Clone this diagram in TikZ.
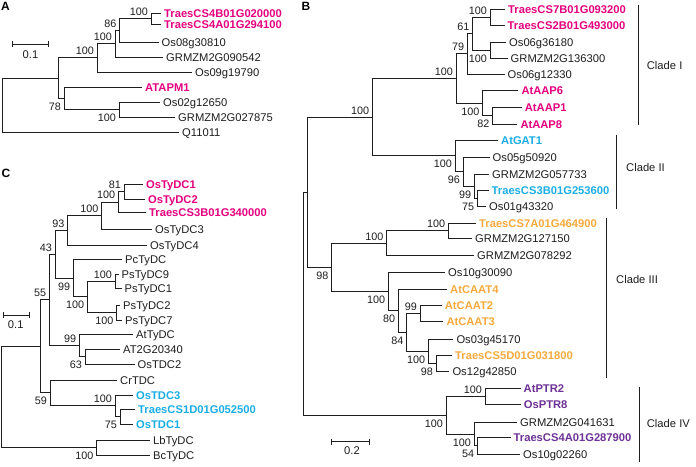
\documentclass[tikz,border=0pt]{standalone}
\usepackage{fontspec}
\setmainfont{Liberation Sans}
\definecolor{pinkc}{RGB}{228,0,127}
\definecolor{cyanc}{RGB}{27,174,228}
\definecolor{orangec}{RGB}{246,170,62}
\definecolor{purplec}{RGB}{110,50,150}
\definecolor{linec}{RGB}{30,30,30}
\newcommand\SupUp[3]{\node[sup] (#1) at ([shift={(-3,-3)}]#2) {#3};}
\newcommand\SupDn[3]{\node[sup] (#1) at ([shift={(-3,12)}]#2) {#3};}
\begin{document}
\begin{tikzpicture}[x=1pt,y=-1pt,
  br/.style={line width=0.9pt, draw=linec},
  bar/.style={line width=1.3pt, draw=linec},
  lf/.style={anchor=west, inner xsep=3pt, inner ysep=0pt, text height=8pt, text depth=0pt, text=linec, font=\fontsize{11.2}{13}\selectfont},
  pk/.style={lf, text=pinkc, font=\fontsize{11.2}{13}\selectfont\bfseries},
  cy/.style={lf, text=cyanc, font=\fontsize{11.2}{13}\selectfont\bfseries},
  og/.style={lf, text=orangec, font=\fontsize{11.2}{13}\selectfont\bfseries},
  pu/.style={lf, text=purplec, font=\fontsize{11.2}{13}\selectfont\bfseries},
  sup/.style={anchor=base east, inner sep=0pt, text=linec, font=\fontsize{10.8}{12}\selectfont},
  plabel/.style={inner sep=0pt, font=\fontsize{12}{14}\selectfont\bfseries},
  clade/.style={anchor=west, inner sep=0pt, text=linec, font=\fontsize{11.2}{13}\selectfont},
  sc/.style={inner sep=0pt, text=linec, font=\fontsize{11.2}{13}\selectfont}
]
\useasboundingbox[fill=white] (0,0) rectangle (696,466);

% ================= Panel A =================
\node[plabel] (pA) at (5.5,6.5) {A};
\node[pk] (A1) at (161,13) {TraesCS4B01G020000};
\node[pk] (A2) at (161,24.3) {TraesCS4A01G294100};
\node[lf] (A3) at (158.5,42) {Os08g30810};
\node[lf] (A4) at (163,57) {GRMZM2G090542};
\node[lf] (A5) at (192,72) {Os09g19790};
\node[pk] (A6) at (142,87) {ATAPM1};
\node[lf] (A7) at (160,102) {Os02g12650};
\node[lf] (A8) at (175,117) {GRMZM2G027875};
\node[lf] (A9) at (179,132) {Q11011};
\coordinate (a6) at (151,18.65);
\coordinate (a5) at (119.5,30.3);
\coordinate (a4) at (115,43.65);
\coordinate (a2) at (97,57.8);
\coordinate (a7) at (119,109.5);
\coordinate (a3) at (64,98.25);
\coordinate (a1) at (58,78);
\coordinate (a0) at (2,105);
\draw[br] (a6) |- (A1.west) (a6) |- (A2.west);
\draw[br] (a5) |- (a6) (a5) |- (A3.west);
\draw[br] (a4) |- (a5) (a4) |- (A4.west);
\draw[br] (a2) |- (a4) (a2) |- (A5.west);
\draw[br] (a7) |- (A7.west) (a7) |- (A8.west);
\draw[br] (a3) |- (A6.west) (a3) |- (a7);
\draw[br] (a1) |- (a2) (a1) |- (a3);
\draw[br] (a0) |- (a1) (a0) |- (A9.west);
\SupUp{sa6}{a6}{100}
\SupUp{sa5}{a5}{86}
\SupUp{sa4}{a4}{100}
\SupUp{sa2}{a2}{100}
\SupDn{sa7}{a7}{100}
\SupDn{sa3}{a3}{78}
% scale A
\coordinate (scA1) at (12,44);
\coordinate (scA2) at (48,44);
\draw[br] (scA1) -- (scA2);
\draw[br] ([yshift=3pt]scA1) -- ([yshift=-3pt]scA1);
\draw[br] ([yshift=3pt]scA2) -- ([yshift=-3pt]scA2);
\node[sc] (scAt) at (30.5,55) {0.1};

% ================= Panel C =================
\node[plabel] (pC) at (6,173.3) {C};
\node[pk] (C1) at (143,184) {OsTyDC1};
\node[pk] (C2) at (145,199.3) {OsTyDC2};
\node[pk] (C3) at (146,212.3) {TraesCS3B01G340000};
\node[lf] (C4) at (152,229.3) {OsTyDC3};
\node[lf] (C5) at (147,245) {OsTyDC4};
\node[lf] (C6) at (122,259.3) {PcTyDC};
\node[lf] (C7) at (118.5,274.3) {PsTyDC9};
\node[lf] (C8) at (121.5,288.3) {PsTyDC1};
\node[lf] (C9) at (120,305) {PsTyDC2};
\node[lf] (C10) at (122,320) {PsTyDC7};
\node[lf] (C11) at (133,334.3) {AtTyDC};
\node[lf] (C12) at (120,349.3) {AT2G20340};
\node[lf] (C13) at (134.5,364.3) {OsTDC2};
\node[lf] (C14) at (117,380) {CrTDC};
\node[cy] (C15) at (133,395) {OsTDC3};
\node[cy] (C16) at (135,409) {TraesCS1D01G052500};
\node[cy] (C17) at (133,424.3) {OsTDC1};
\node[lf] (C18) at (150,440) {LbTyDC};
\node[lf] (C19) at (150,455) {BcTyDC};
\coordinate (ca) at (124,191.65);
\coordinate (cb) at (118.3,201.98);
\coordinate (cc) at (101.7,215.64);
\coordinate (cd) at (67.7,230.32);
\coordinate (cp1) at (115,281.3);
\coordinate (cp2) at (116.7,312.5);
\coordinate (ci) at (87.3,296.9);
\coordinate (cg) at (73.3,278.1);
\coordinate (c43) at (55,254.2);
\coordinate (cat2) at (85,356.8);
\coordinate (cat) at (79.3,345.55);
\coordinate (c55) at (49.3,299.9);
\coordinate (cos2) at (120,416.65);
\coordinate (cos) at (115,405.8);
\coordinate (c59) at (50,392.9);
\coordinate (c40) at (40.7,346.4);
\coordinate (clb) at (96.7,447.5);
\coordinate (c0) at (1.7,396.95);
\draw[br] (ca) |- (C1.west) (ca) |- (C2.west);
\draw[br] (cb) |- (ca) (cb) |- (C3.west);
\draw[br] (cc) |- (cb) (cc) |- (C4.west);
\draw[br] (cd) |- (cc) (cd) |- (C5.west);
\draw[br] (cp1) |- (C7.west) (cp1) |- (C8.west);
\draw[br] (cp2) |- (C9.west) (cp2) |- (C10.west);
\draw[br] (ci) |- (cp1) (ci) |- (cp2);
\draw[br] (cg) |- (C6.west) (cg) |- (ci);
\draw[br] (c43) |- (cd) (c43) |- (cg);
\draw[br] (cat2) |- (C12.west) (cat2) |- (C13.west);
\draw[br] (cat) |- (C11.west) (cat) |- (cat2);
\draw[br] (c55) |- (c43) (c55) |- (cat);
\draw[br] (cos2) |- (C16.west) (cos2) |- (C17.west);
\draw[br] (cos) |- (C15.west) (cos) |- (cos2);
\draw[br] (c59) |- (C14.west) (c59) |- (cos);
\draw[br] (c40) |- (c55) (c40) |- (c59);
\draw[br] (clb) |- (C18.west) (clb) |- (C19.west);
\draw[br] (c0) |- (c40) (c0) |- (clb);
\SupUp{sca}{ca}{81}
\SupUp{scb}{cb}{100}
\SupUp{scc}{cc}{100}
\SupUp{scd}{cd}{93}
\SupUp{sc43}{c43}{43}
\SupUp{scp1}{cp1}{100}
\SupDn{scp2}{cp2}{100}
\SupDn{sci}{ci}{100}
\SupDn{scg}{cg}{99}
\SupUp{scat}{cat}{99}
\SupDn{scat2}{cat2}{63}
\SupUp{sc55}{c55}{55}
\SupUp{scos}{cos}{100}
\SupDn{scos2}{cos2}{75}
\SupDn{sc59}{c59}{59}
\SupDn{sclb}{clb}{100}
% scale C
\coordinate (scC1) at (3.3,315);
\coordinate (scC2) at (29.3,315);
\draw[br] (scC1) -- (scC2);
\draw[br] ([yshift=3pt]scC1) -- ([yshift=-3pt]scC1);
\draw[br] ([yshift=3pt]scC2) -- ([yshift=-3pt]scC2);
\node[sc] (scCt) at (15.7,325) {0.1};

% ================= Panel B =================
\node[plabel] (pB) at (306,6.7) {B};
\node[pk] (B1) at (505,9.3) {TraesCS7B01G093200};
\node[pk] (B2) at (504.5,25) {TraesCS2B01G493000};
\node[lf] (B3) at (506,42.7) {Os06g36180};
\node[lf] (B4) at (507.5,58.3) {GRMZM2G136300};
\node[lf] (B5) at (504.5,74) {Os06g12330};
\node[pk] (B6) at (518.3,90.7) {AtAAP6};
\node[pk] (B7) at (521.7,107.7) {AtAAP1};
\node[pk] (B8) at (517.3,124) {AtAAP8};
\node[cy] (B9) at (498,140) {AtGAT1};
\node[lf] (B10) at (489.5,157.3) {Os05g50920};
\node[lf] (B11) at (489,174) {GRMZM2G057733};
\node[cy] (B12) at (488.5,190) {TraesCS3B01G253600};
\node[lf] (B13) at (486,206) {Os01g43320};
\node[og] (B14) at (476,223) {TraesCS7A01G464900};
\node[lf] (B15) at (472,238.8) {GRMZM2G127150};
\node[lf] (B16) at (474,255.5) {GRMZM2G078292};
\node[lf] (B17) at (445,272.5) {Os10g30090};
\node[og] (B18) at (447,289) {AtCAAT4};
\node[og] (B19) at (441.7,305.5) {AtCAAT2};
\node[og] (B20) at (443.3,321.7) {AtCAAT3};
\node[lf] (B21) at (453.3,339) {Os03g45170};
\node[og] (B22) at (452,355.7) {TraesCS5D01G031800};
\node[lf] (B23) at (449.3,371.7) {Os12g42850};
\node[pu] (B24) at (520.5,388.3) {AtPTR2};
\node[pu] (B25) at (520.7,404.3) {OsPTR8};
\node[lf] (B26) at (517,422.3) {GRMZM2G041631};
\node[pu] (B27) at (510.5,437.7) {TraesCS4A01G287900};
\node[lf] (B28) at (520,454) {Os10g02260};
\coordinate (b100a) at (490,17.15);
\coordinate (b100b) at (490,50.5);
\coordinate (b61) at (472.7,33.8);
\coordinate (b79) at (467.3,53.9);
\coordinate (b82) at (492.7,115.85);
\coordinate (baap) at (482.7,103.3);
\coordinate (bc1) at (456,78.6);
\coordinate (b75) at (477.3,198);
\coordinate (b99) at (474.3,186);
\coordinate (b96) at (463,171.65);
\coordinate (bc2) at (455,155.8);
\coordinate (x1) at (372.3,117.2);
\coordinate (b100c) at (448.3,230.9);
\coordinate (b100d) at (386.7,243.2);
\coordinate (b98b) at (436,363.7);
\coordinate (b100e) at (428.3,351.35);
\coordinate (b99b) at (420,313.6);
\coordinate (b84) at (406.7,332.5);
\coordinate (b80) at (398.3,310.75);
\coordinate (b100f) at (388.3,291.6);
\coordinate (b98) at (331.7,267.4);
\coordinate (x0) at (307.3,192.3);
\coordinate (b100g) at (485,396.3);
\coordinate (b54) at (477.3,445.85);
\coordinate (b100h) at (474,434.1);
\coordinate (bc4) at (446,415.2);
\coordinate (b0) at (303.3,303.75);
\draw[br] (b100a) |- (B1.west) (b100a) |- (B2.west);
\draw[br] (b100b) |- (B3.west) (b100b) |- (B4.west);
\draw[br] (b61) |- (b100a) (b61) |- (b100b);
\draw[br] (b79) |- (b61) (b79) |- (B5.west);
\draw[br] (b82) |- (B7.west) (b82) |- (B8.west);
\draw[br] (baap) |- (B6.west) (baap) |- (b82);
\draw[br] (bc1) |- (b79) (bc1) |- (baap);
\draw[br] (b75) |- (B12.west) (b75) |- (B13.west);
\draw[br] (b99) |- (B11.west) (b99) |- (b75);
\draw[br] (b96) |- (B10.west) (b96) |- (b99);
\draw[br] (bc2) |- (B9.west) (bc2) |- (b96);
\draw[br] (x1) |- (bc1) (x1) |- (bc2);
\draw[br] (b100c) |- (B14.west) (b100c) |- (B15.west);
\draw[br] (b100d) |- (b100c) (b100d) |- (B16.west);
\draw[br] (b98b) |- (B22.west) (b98b) |- (B23.west);
\draw[br] (b100e) |- (B21.west) (b100e) |- (b98b);
\draw[br] (b99b) |- (B19.west) (b99b) |- (B20.west);
\draw[br] (b84) |- (b99b) (b84) |- (b100e);
\draw[br] (b80) |- (B18.west) (b80) |- (b84);
\draw[br] (b100f) |- (B17.west) (b100f) |- (b80);
\draw[br] (b98) |- (b100d) (b98) |- (b100f);
\draw[br] (x0) |- (x1) (x0) |- (b98);
\draw[br] (b100g) |- (B24.west) (b100g) |- (B25.west);
\draw[br] (b54) |- (B27.west) (b54) |- (B28.west);
\draw[br] (b100h) |- (B26.west) (b100h) |- (b54);
\draw[br] (bc4) |- (b100g) (bc4) |- (b100h);
\draw[br] (b0) |- (x0) (b0) |- (bc4);
\SupUp{sb100a}{b100a}{100}
\SupDn{sb100b}{b100b}{100}
\SupUp{sb61}{b61}{61}
\SupUp{sb79}{b79}{79}
\SupDn{sb82}{b82}{82}
\SupDn{sbaap}{baap}{100}
\SupUp{sbc1}{bc1}{100}
\SupDn{sb75}{b75}{75}
\SupDn{sb99}{b99}{99}
\SupDn{sb96}{b96}{96}
\SupDn{sbc2}{bc2}{100}
\SupUp{sx1}{x1}{100}
\SupUp{sb100c}{b100c}{100}
\SupUp{sb100d}{b100d}{100}
\SupDn{sb98b}{b98b}{98}
\SupDn{sb100e}{b100e}{100}
\SupUp{sb99b}{b99b}{99}
\SupDn{sb84}{b84}{84}
\SupDn{sb80}{b80}{80}
\SupDn{sb100f}{b100f}{100}
\SupDn{sb98}{b98}{98}
\SupUp{sb100g}{b100g}{100}
\SupDn{sb54}{b54}{54}
\SupDn{sb100h}{b100h}{100}
\SupDn{sbc4}{bc4}{100}
% clade bars
\coordinate (k1a) at (638.3,4.7); \coordinate (k1b) at (638.3,125);
\coordinate (k2a) at (616.7,135); \coordinate (k2b) at (616.7,209.3);
\coordinate (k3a) at (606.7,218.3); \coordinate (k3b) at (606.7,378.3);
\coordinate (k4a) at (639.3,386.7); \coordinate (k4b) at (639.3,461.7);
\draw[bar] (k1a) -- (k1b);
\draw[bar] (k2a) -- (k2b);
\draw[bar] (k3a) -- (k3b);
\draw[bar] (k4a) -- (k4b);
\node[clade] (kt1) at (646.7,65) {Clade I};
\node[clade] (kt2) at (626,167.3) {Clade II};
\node[clade] (kt3) at (616,279.3) {Clade III};
\node[clade] (kt4) at (646.7,423.3) {Clade IV};
% scale B
\coordinate (scB1) at (331.7,441.7);
\coordinate (scB2) at (369.3,441.7);
\draw[br] (scB1) -- (scB2);
\draw[br] ([yshift=3pt]scB1) -- ([yshift=-3pt]scB1);
\draw[br] ([yshift=3pt]scB2) -- ([yshift=-3pt]scB2);
\node[sc] (scBt) at (352,451) {0.2};
\end{tikzpicture}
\end{document}
